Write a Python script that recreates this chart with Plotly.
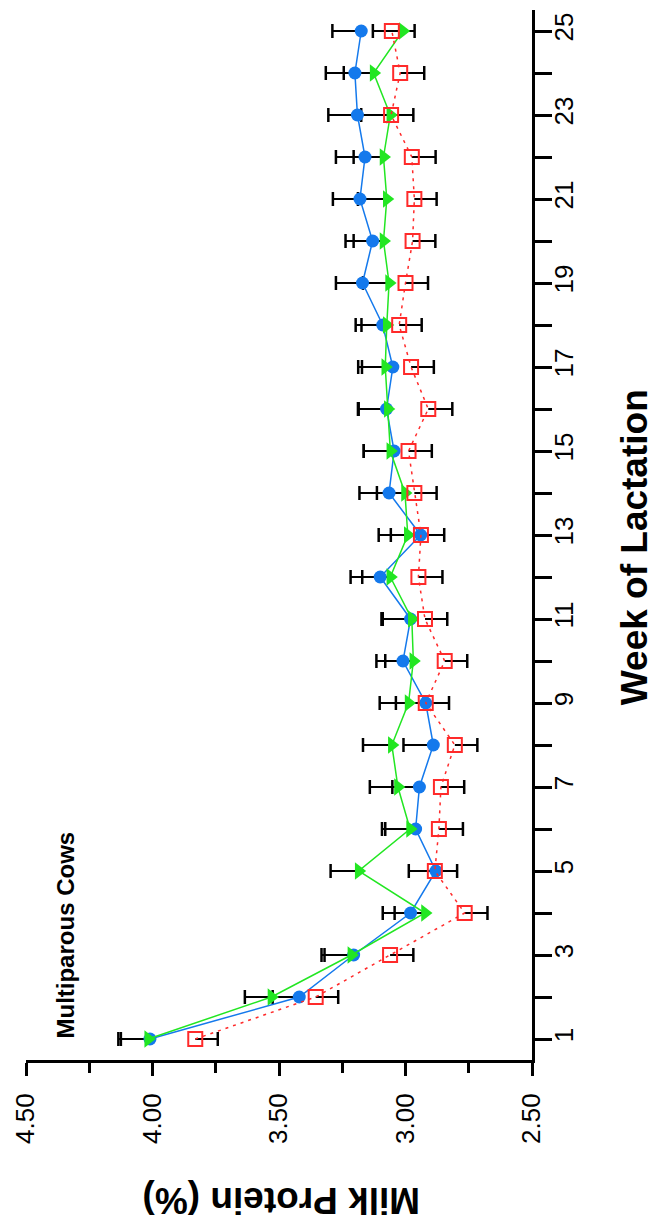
import plotly.graph_objects as go

weeks = list(range(1, 26))

blue_vals = [4.01, 3.42, 3.205, 2.98, 2.88, 2.96, 2.945, 2.89, 2.92, 3.01,
             2.98, 3.10, 2.94, 3.065, 3.045, 3.075, 3.05, 3.09, 3.17, 3.13,
             3.18, 3.16, 3.19, 3.20, 3.175]
blue_err = [0.115, 0.105, 0.115, 0.11, 0.107, 0.12, 0.107, 0.118, 0.118, 0.105,
            0.115, 0.117, 0.118, 0.117, 0.12, 0.113, 0.122, 0.107, 0.105, 0.107,
            0.107, 0.115, 0.115, 0.115, 0.114]

green_vals = [4.017, 3.53, 3.214, 2.923, 3.185, 2.982, 3.03, 3.054, 2.988, 2.969,
              2.975, 3.06, 2.991, 3.002, 3.06, 3.07, 3.08, 3.074, 3.065, 3.087,
              3.074, 3.087, 3.06, 3.126, 3.011]
green_err = [0.118, 0.105, 0.118, 0.12, 0.111, 0.111, 0.111, 0.114, 0.114, 0.111,
             0.115, 0.111, 0.115, 0.111, 0.105, 0.115, 0.107, 0.10, 0.103, 0.118,
             0.114, 0.118, 0.115, 0.118, 0.118]

red_vals = [3.831, 3.355, 3.061, 2.766, 2.884, 2.868, 2.86, 2.805, 2.92, 2.845,
            2.923, 2.949, 2.939, 2.965, 2.988, 2.91, 2.978, 3.025, 3.0, 2.972,
            2.965, 2.975, 3.057, 3.021, 3.054]
red_err = [0.089, 0.089, 0.092, 0.09, 0.088, 0.095, 0.092, 0.089, 0.092, 0.089,
           0.088, 0.095, 0.092, 0.088, 0.092, 0.095, 0.09, 0.089, 0.089, 0.09,
           0.088, 0.094, 0.088, 0.095, 0.09]

FONT = "Liberation Sans, Arial, sans-serif"

fig = go.Figure()


def one_sided_bars(vals, errs, sign):
    """Error bar stems (value -> value+sign*err) and end caps, in data units."""
    sx, sy, cx = [], [], []
    for w, v, e in zip(weeks, vals, errs):
        end = v + sign * e
        sx += [v, end, None]
        sy += [w, w, None]
        cx.append(end)
    fig.add_trace(go.Scatter(x=sx, y=sy, mode="lines",
                             line=dict(color="black", width=2),
                             hoverinfo="skip", showlegend=False))
    fig.add_trace(go.Scatter(x=cx, y=weeks, mode="markers",
                             marker=dict(symbol="line-ns-open", size=10, color="black",
                                         line=dict(color="black", width=2.5)),
                             hoverinfo="skip", showlegend=False))


# blue and green bars point to higher values, red bars to lower values
one_sided_bars(blue_vals, blue_err, +1)
one_sided_bars(green_vals, green_err, +1)
one_sided_bars(red_vals, red_err, -1)

fig.add_trace(go.Scatter(
    x=blue_vals, y=weeks, mode="lines+markers",
    line=dict(color="#1479EC", width=1.5),
    marker=dict(symbol="circle", size=13, color="#1479EC"),
    showlegend=False,
))
fig.add_trace(go.Scatter(
    x=green_vals, y=weeks, mode="lines+markers",
    line=dict(color="#22E622", width=1.5),
    marker=dict(symbol="triangle-right", size=15, color="#22E622"),
    showlegend=False,
))
fig.add_trace(go.Scatter(
    x=red_vals, y=weeks, mode="lines+markers",
    line=dict(color="#FF2A2A", width=1.5, dash="3px,5px"),
    marker=dict(symbol="square-open", size=14, color="#FF2A2A", line=dict(width=2)),
    showlegend=False,
))

fig.update_layout(
    width=654, height=1226,
    margin=dict(l=22, r=122, t=10, b=166),
    paper_bgcolor="white", plot_bgcolor="white",
    font=dict(family=FONT, color="black"),
    xaxis=dict(
        range=[4.5, 2.5], tick0=2.5, dtick=0.5, tickformat=".2f",
        showgrid=False, zeroline=False,
        showline=True, linecolor="black", linewidth=3,
        ticks="outside", ticklen=13, tickwidth=2.5, tickcolor="black",
        tickangle=-90, tickfont=dict(size=26, family=FONT),
        ticklabelstandoff=7,
        minor=dict(dtick=0.25, ticks="outside", ticklen=10, tickwidth=2.5,
                   tickcolor="black", showgrid=False),
    ),
    yaxis=dict(
        range=[0.5, 25.5], tick0=1, dtick=2, side="right",
        showgrid=False, zeroline=False,
        showline=True, linecolor="black", linewidth=3,
        ticks="outside", ticklen=17, tickwidth=2.5, tickcolor="black",
        tickangle=-90, tickfont=dict(size=26, family=FONT),
        ticklabelstandoff=-10,
        minor=dict(dtick=1, tick0=0, ticks="outside", ticklen=17, tickwidth=2.5,
                   tickcolor="black", showgrid=False),
    ),
    annotations=[
        dict(text="<b>Week of Lactation</b>", xref="paper", yref="paper",
             x=1.204, y=0.4886, xanchor="center", yanchor="middle",
             textangle=-90, showarrow=False, font=dict(size=37, family=FONT)),
        dict(text="<b>Milk Protein (%)</b>", xref="paper", yref="paper",
             x=0.504, y=-0.1333, xanchor="center", yanchor="middle",
             textangle=180, showarrow=False, font=dict(size=37, family=FONT)),
        dict(text="<b>Multiparous Cows</b>", xref="paper", yref="paper",
             x=0.078, y=0.119, xanchor="center", yanchor="middle",
             textangle=-90, showarrow=False, font=dict(size=24, family=FONT)),
    ],
)

fig.write_html("out.html")
